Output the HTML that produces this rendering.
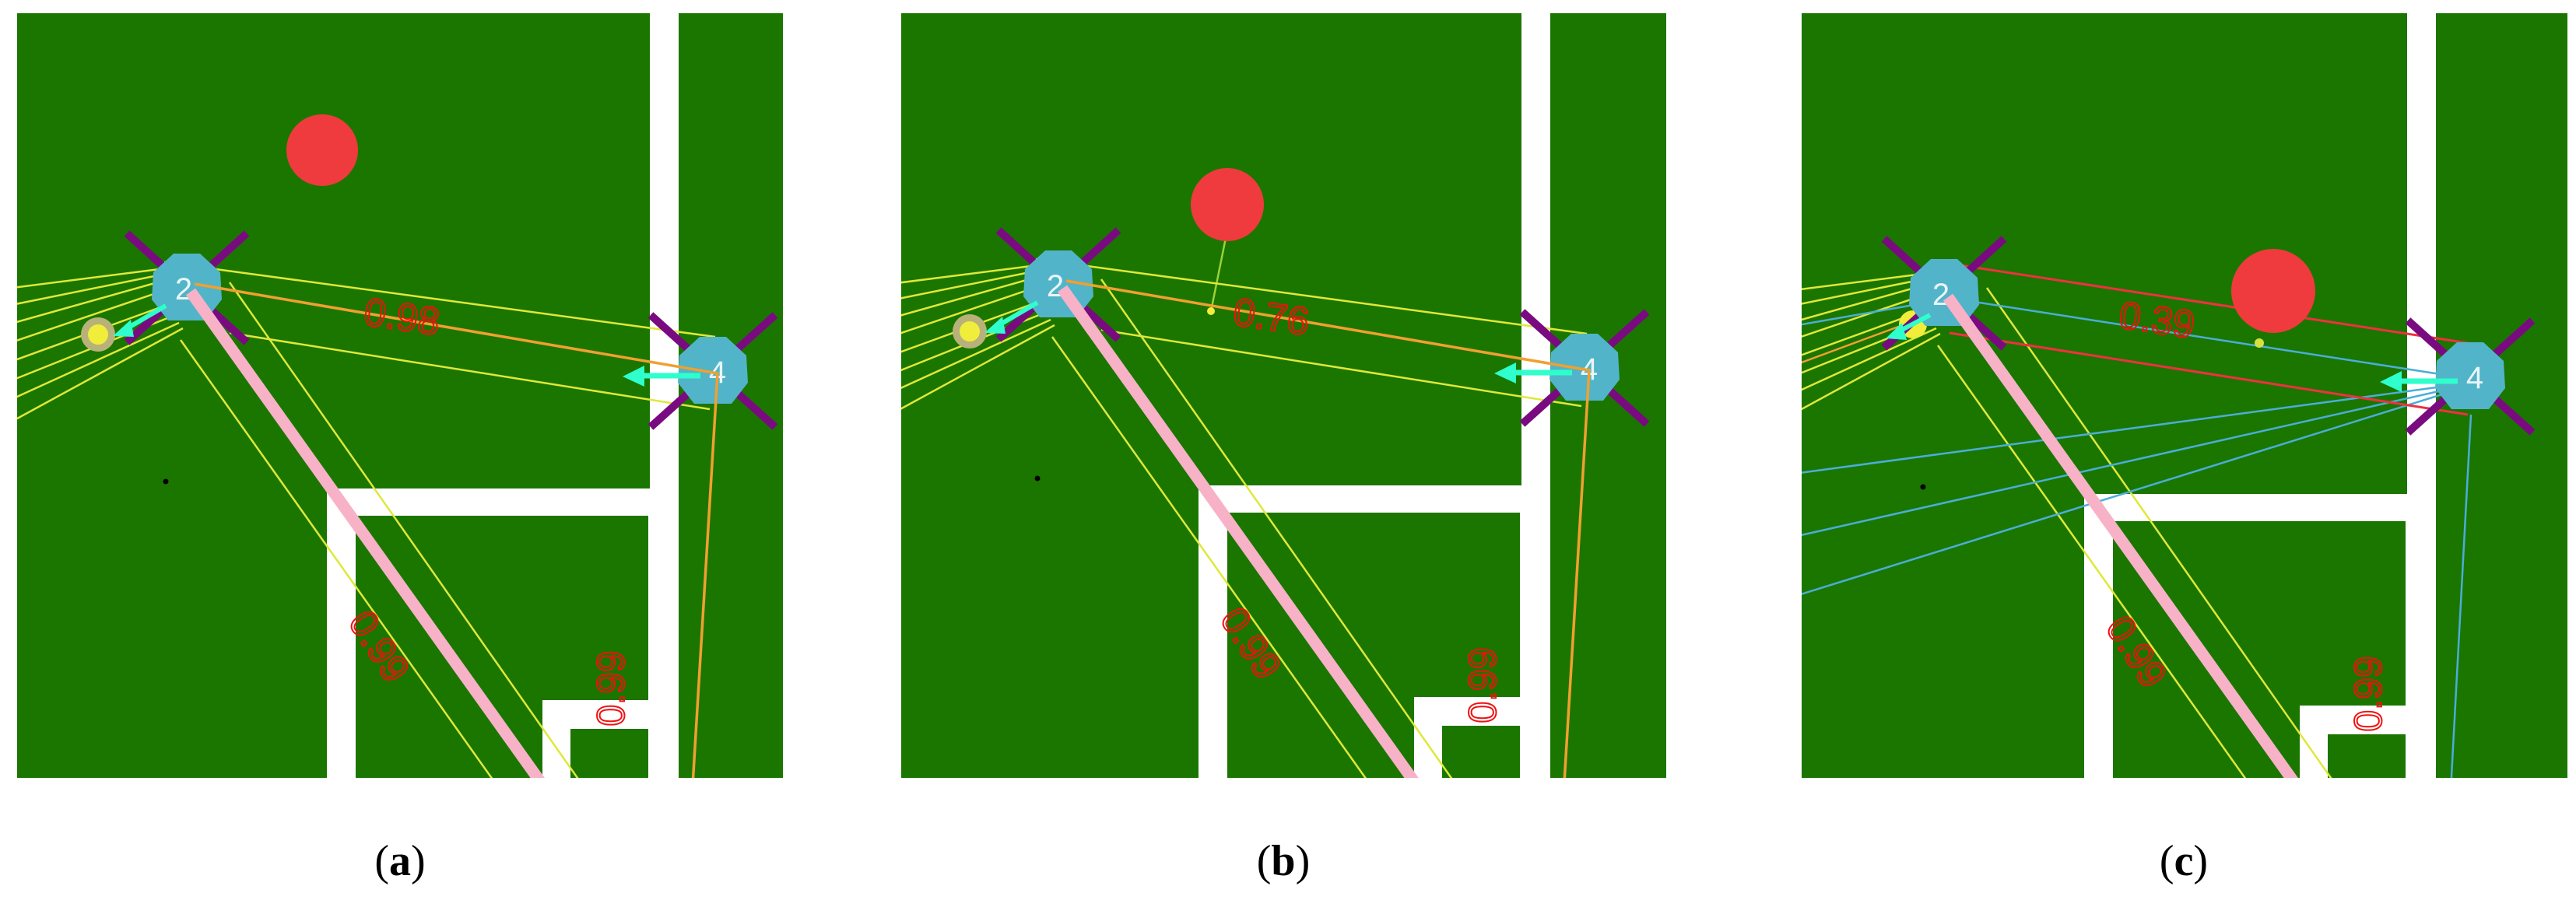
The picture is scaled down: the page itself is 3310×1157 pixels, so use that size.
<!DOCTYPE html>
<html><head><meta charset="utf-8"><style>
html,body{margin:0;padding:0;background:#fff;width:3310px;height:1157px;overflow:hidden;}
svg{display:block;overflow:hidden;}
.lbl{font-family:"Liberation Sans",sans-serif;font-size:50px;fill:none;stroke:#f01010;stroke-width:2;}
.nd{font-family:"Liberation Sans",sans-serif;font-size:40px;fill:#e8f6fa;}
.cap{font-family:"Liberation Serif",serif;font-size:56px;fill:#000;}
</style></head><body>
<svg width="3310" height="1157" viewBox="0 0 3310 1157" xmlns="http://www.w3.org/2000/svg">
<defs>
<clipPath id="ca"><rect x="22" y="17" width="984" height="983"/></clipPath>
<clipPath id="cb"><rect x="1158" y="17" width="983" height="983"/></clipPath>
<clipPath id="cc"><rect x="2315" y="17" width="984" height="983"/></clipPath>
<g id="map">
  <rect x="-200" y="-100" width="1400" height="1300" fill="#1b7600"/>
  <rect x="835" y="-100" width="37" height="1300" fill="#fff"/>
  <rect x="420" y="628" width="420" height="35" fill="#fff"/>
  <rect x="420" y="628" width="37" height="600" fill="#fff"/>
  <rect x="833" y="628" width="10" height="600" fill="#fff"/>
  <rect x="697" y="900" width="140" height="37" fill="#fff"/>
  <rect x="697" y="900" width="36" height="300" fill="#fff"/>
  <circle cx="213" cy="619" r="3.5" fill="#000"/>
  <line x1="232" y1="437" x2="660" y2="1040" stroke="#dfe83a" stroke-width="2.5"/>
  <line x1="295" y1="363" x2="770" y2="1040" stroke="#dfe83a" stroke-width="2.5"/>
</g>
<g id="xs2">
  <line x1="163" y1="300" x2="317" y2="440" stroke="#7a0a80" stroke-width="10"/>
  <line x1="317" y1="300" x2="163" y2="440" stroke="#7a0a80" stroke-width="10"/>
</g>
<g id="xs4">
  <line x1="836" y1="405" x2="996" y2="549" stroke="#7a0a80" stroke-width="10"/>
  <line x1="996" y1="405" x2="836" y2="549" stroke="#7a0a80" stroke-width="10"/>
</g>
<polygon id="oct" points="-17,-44 17,-44 43,-20 45,15 24,42 -24,42 -45,15 -43,-20" fill="#52b4c8"/>
<g id="fan">
  <g stroke="#dfe83a" stroke-width="2.5">
  <line x1="213" y1="345" x2="0" y2="372"/>
  <line x1="213" y1="352" x2="0" y2="395"/>
  <line x1="213" y1="360" x2="0" y2="420"/>
  <line x1="215" y1="372" x2="0" y2="445"/>
  <line x1="220" y1="390" x2="0" y2="470"/>
  <line x1="225" y1="405" x2="0" y2="495"/>
  <line x1="230" y1="415" x2="0" y2="520"/>
  <line x1="235" y1="422" x2="0" y2="550"/>
  </g>
</g>
</defs>

<g clip-path="url(#ca)"><g>
  <use href="#map"/>
  <use href="#fan"/>
  <circle cx="414" cy="193" r="46" fill="#ef3b3d"/>
  <line x1="211" y1="337" x2="919" y2="433" stroke="#dfe83a" stroke-width="2.5"/>
  <line x1="295" y1="428" x2="912" y2="526" stroke="#dfe83a" stroke-width="2.5"/>
  <use href="#xs2"/><use href="#xs4"/>
  <circle cx="126" cy="430" r="22" fill="#b8b27a"/>
  <circle cx="126" cy="430" r="13" fill="#f0ee3a"/>
  <use href="#oct" x="240" y="370"/>
  <use href="#oct" x="916" y="477"/>
  <text x="236" y="385" class="nd" text-anchor="middle">2</text>
  <text x="922" y="492" class="nd" text-anchor="middle">4</text>
  <polyline points="250,365 922,480 890,1010" fill="none" stroke="#f0a030" stroke-width="3.5"/>
  <line x1="245" y1="375" x2="705" y2="1020" stroke="#f7b2c8" stroke-width="15"/>
  <line x1="213" y1="393" x2="160" y2="424" stroke="#2effcc" stroke-width="6"/>
  <polygon points="145,432 168,411 172,433" fill="#2effcc"/>
  <line x1="900" y1="483" x2="820" y2="483" stroke="#2effcc" stroke-width="7"/>
  <polygon points="800,484 828,470 828,497" fill="#2effcc"/>
  <text class="lbl" transform="translate(516,411) rotate(8)" text-anchor="middle" dominant-baseline="middle">0.98</text>
  <text class="lbl" transform="translate(484,833) rotate(57)" text-anchor="middle" dominant-baseline="middle">0.99</text>
  <text class="lbl" transform="translate(789,885) rotate(-90)" text-anchor="middle" dominant-baseline="middle">0.99</text>
</g></g>

<g clip-path="url(#cb)"><g transform="translate(1120,-4)">
  <use href="#map"/>
  <use href="#fan"/>
  <line x1="457" y1="300" x2="436" y2="404" stroke="#9bd23a" stroke-width="2.5"/>
  <circle cx="457" cy="267" r="47" fill="#ef3b3d"/>
  <line x1="211" y1="337" x2="919" y2="433" stroke="#dfe83a" stroke-width="2.5"/>
  <line x1="295" y1="428" x2="912" y2="526" stroke="#dfe83a" stroke-width="2.5"/>
  <use href="#xs2"/><use href="#xs4"/>
  <circle cx="126" cy="430" r="22" fill="#b8b27a"/>
  <circle cx="126" cy="430" r="13" fill="#f0ee3a"/>
  <use href="#oct" x="240" y="370"/>
  <use href="#oct" x="916" y="477"/>
  <text x="236" y="385" class="nd" text-anchor="middle">2</text>
  <text x="922" y="492" class="nd" text-anchor="middle">4</text>
  <polyline points="250,365 922,480 890,1010" fill="none" stroke="#f0a030" stroke-width="3.5"/>
  <circle cx="436" cy="404" r="5" fill="#f0ee3a"/>
  <line x1="245" y1="375" x2="705" y2="1020" stroke="#f7b2c8" stroke-width="15"/>
  <line x1="213" y1="393" x2="160" y2="424" stroke="#2effcc" stroke-width="6"/>
  <polygon points="145,432 168,411 172,433" fill="#2effcc"/>
  <line x1="900" y1="483" x2="820" y2="483" stroke="#2effcc" stroke-width="7"/>
  <polygon points="800,484 828,470 828,497" fill="#2effcc"/>
  <text class="lbl" transform="translate(513,415) rotate(8)" text-anchor="middle" dominant-baseline="middle">0.76</text>
  <text class="lbl" transform="translate(484,833) rotate(57)" text-anchor="middle" dominant-baseline="middle">0.99</text>
  <text class="lbl" transform="translate(789,885) rotate(-90)" text-anchor="middle" dominant-baseline="middle">0.99</text>
</g></g>

<g clip-path="url(#cc)"><g transform="translate(2258,7)">
  <use href="#map"/>
  <use href="#fan"/>
  <line x1="230" y1="395" x2="0" y2="480" stroke="#f0a030" stroke-width="2.5"/>
  <g stroke="#4aaed8" stroke-width="2.5">
    <line x1="880" y1="490" x2="-50" y2="615"/>
    <line x1="880" y1="495" x2="-50" y2="705"/>
    <line x1="880" y1="500" x2="-50" y2="790"/>
    <line x1="240" y1="375" x2="916" y2="480"/>
    <line x1="917" y1="526" x2="891" y2="1010"/>
    <line x1="230" y1="380" x2="0" y2="420"/>
  </g>
  <circle cx="200" cy="410" r="18" fill="#f0ee3a"/>
  <line x1="261" y1="334" x2="913" y2="434" stroke="#f03040" stroke-width="3"/>
  <line x1="247" y1="421" x2="913" y2="526" stroke="#f03040" stroke-width="3"/>
  <circle cx="663" cy="367" r="54" fill="#ef3b3d"/>
  <circle cx="645" cy="434" r="6" fill="#d8e040"/>
  <use href="#xs2"/><use href="#xs4"/>
  <use href="#oct" x="240" y="370"/>
  <use href="#oct" x="916" y="477"/>
  <text x="236" y="385" class="nd" text-anchor="middle">2</text>
  <text x="922" y="492" class="nd" text-anchor="middle">4</text>
  <line x1="245" y1="375" x2="705" y2="1020" stroke="#f7b2c8" stroke-width="15"/>
  <line x1="222" y1="398" x2="180" y2="420" stroke="#2effcc" stroke-width="6"/>
  <polygon points="165,428 186,408 192,430" fill="#2effcc"/>
  <line x1="900" y1="483" x2="820" y2="483" stroke="#2effcc" stroke-width="7"/>
  <polygon points="800,484 828,470 828,497" fill="#2effcc"/>
  <text class="lbl" transform="translate(513,408) rotate(8)" text-anchor="middle" dominant-baseline="middle">0.39</text>
  <text class="lbl" transform="translate(484,833) rotate(57)" text-anchor="middle" dominant-baseline="middle">0.99</text>
  <text class="lbl" transform="translate(789,885) rotate(-90)" text-anchor="middle" dominant-baseline="middle">0.99</text>
</g></g>

<text class="cap" x="514" y="1125" text-anchor="middle">(<tspan font-weight="bold">a</tspan>)</text>
<text class="cap" x="1649" y="1125" text-anchor="middle">(<tspan font-weight="bold">b</tspan>)</text>
<text class="cap" x="2806" y="1125" text-anchor="middle">(<tspan font-weight="bold">c</tspan>)</text>
</svg>
</body></html>
